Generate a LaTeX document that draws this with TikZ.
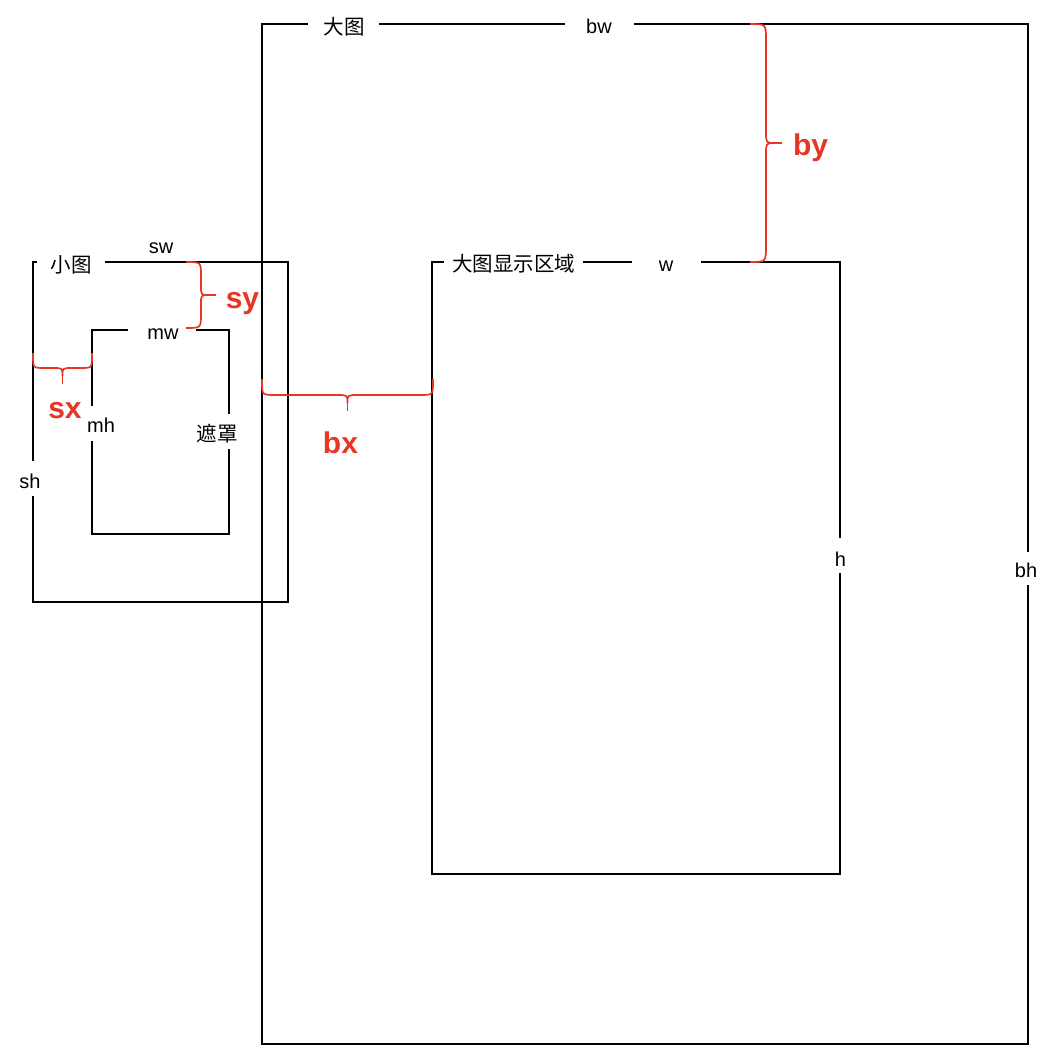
\documentclass[tikz,border=0pt]{standalone}
\usepackage{fontspec}
\setmainfont{Liberation Sans}
\newfontfamily\cjk{Noto Sans CJK SC}
\definecolor{anred}{RGB}{232,54,38}
\begin{document}
\begin{tikzpicture}[x=1pt,y=-1pt,
  frame/.style={line width=1.8pt,black},
  rb/.style={line width=1.7pt,anred,line join=round},
  lbl/.style={anchor=base,inner sep=0pt,font=\fontsize{20}{23}\selectfont},
  clbl/.style={anchor=base,inner sep=0pt,font=\cjk\fontsize{20.5}{23}\selectfont},
  rlbl/.style={anchor=base,inner sep=0pt,text=anred,font=\bfseries\fontsize{30}{34}\selectfont}]
\useasboundingbox[fill=white] (0,0) rectangle (1050,1060);
% ---------- big picture ----------
\coordinate (B-tl) at (262,24);
\coordinate (B-tr) at (1028,24);
\coordinate (B-br) at (1028,1044);
\coordinate (B-bl) at (262,1044);
\coordinate (dtA) at (308,24);
\coordinate (dtB) at (379,24);
\coordinate (bwA) at (565,24);
\coordinate (bwB) at (634,24);
\coordinate (bhA) at (1028,552);
\coordinate (bhB) at (1028,585);
\draw[frame] (bwB) -- (B-tr) -- (bhA);
\draw[frame] (bhB) -- (B-br) -- (B-bl) -- (B-tl) -- (dtA);
\draw[frame] (dtB) -- (bwA);
\node[clbl] (lbl-big) at (344,34) {大图};
\node[lbl] (lbl-bw) at (599,33) {bw};
\node[lbl] (lbl-bh) at (1026,577) {bh};
% ---------- small picture ----------
\coordinate (S-tl) at (33,262);
\coordinate (S-tr) at (288,262);
\coordinate (S-br) at (288,602);
\coordinate (S-bl) at (33,602);
\coordinate (xtA) at (37,262);
\coordinate (xtB) at (105,262);
\coordinate (shA) at (33,461);
\coordinate (shB) at (33,496);
\draw[frame] (xtB) -- (S-tr) -- (S-br) -- (S-bl) -- (shB);
\draw[frame] (shA) -- (S-tl) -- (xtA);
\node[clbl] (lbl-small) at (71,272) {小图};
\node[lbl] (lbl-sw) at (161,253) {sw};
\node[lbl] (lbl-sh) at (30,488) {sh};
% ---------- mask ----------
\coordinate (M-tl) at (92,330);
\coordinate (M-tr) at (229,330);
\coordinate (M-br) at (229,534);
\coordinate (M-bl) at (92,534);
\coordinate (mwA) at (128,330);
\coordinate (mwB) at (196,330);
\coordinate (mhA) at (92,406);
\coordinate (mhB) at (92,441);
\coordinate (zzA) at (229,414);
\coordinate (zzB) at (229,449);
\draw[frame] (mwB) -- (M-tr) -- (zzA);
\draw[frame] (zzB) -- (M-br) -- (M-bl) -- (mhB);
\draw[frame] (mhA) -- (M-tl) -- (mwA);
\node[lbl] (lbl-mw) at (163,339) {mw};
\node[lbl] (lbl-mh) at (101,432) {mh};
\node[clbl] (lbl-mask) at (217,441) {遮罩};
% ---------- display area ----------
\coordinate (D-tl) at (432,262);
\coordinate (D-tr) at (840,262);
\coordinate (D-br) at (840,874);
\coordinate (D-bl) at (432,874);
\coordinate (xsA) at (444,262);
\coordinate (xsB) at (583,262);
\coordinate (wA) at (632,262);
\coordinate (wB) at (701,262);
\coordinate (hA) at (840,538);
\coordinate (hB) at (840,573);
\draw[frame] (wB) -- (D-tr) -- (hA);
\draw[frame] (hB) -- (D-br) -- (D-bl) -- (D-tl) -- (xsA);
\draw[frame] (xsB) -- (wA);
\node[clbl] (lbl-disp) at (513.5,271) {大图显示区域};
\node[lbl] (lbl-w) at (666,271) {w};
\node[lbl] (lbl-h) at (840.5,566) {h};
% ---------- red braces ----------
% by
\draw[rb] (750,24) .. controls (766,24) .. (766,40) -- (766,132)
  .. controls (766,143) .. (775,143)
  .. controls (766,143) .. (766,154) -- (766,246)
  .. controls (766,262) .. (750,262);
\draw[rb] (774,143) -- (782,143);
\node[rlbl] (lbl-by) at (810.5,155) {by};
% sy
\draw[rb] (186,262) .. controls (201,262) .. (201,276) -- (201,286)
  .. controls (201,295) .. (209,295)
  .. controls (201,295) .. (201,304) -- (201,314)
  .. controls (201,328) .. (186,328);
\draw[rb] (208,295) -- (216,295);
\node[rlbl] (lbl-sy) at (242.5,308) {sy};
% sx
\draw[rb] (33,353) -- (33,356) .. controls (33,368) .. (45,368) -- (53,368)
  .. controls (62.5,368) .. (62.5,376)
  .. controls (62.5,368) .. (72,368) -- (80,368)
  .. controls (92,368) .. (92,356) -- (92,353);
\draw[rb] (62.5,375) -- (62.5,384);
\node[rlbl] (lbl-sx) at (65,418) {sx};
% bx
\draw[rb] (262,379) -- (262,382) .. controls (262,395) .. (276,395) -- (337,395)
  .. controls (347.5,395) .. (347.5,403)
  .. controls (347.5,395) .. (358,395) -- (419,395)
  .. controls (433,395) .. (433,382) -- (433,379);
\draw[rb] (347.5,402) -- (347.5,411);
\node[rlbl] (lbl-bx) at (340.5,453) {bx};
\end{tikzpicture}
\end{document}
